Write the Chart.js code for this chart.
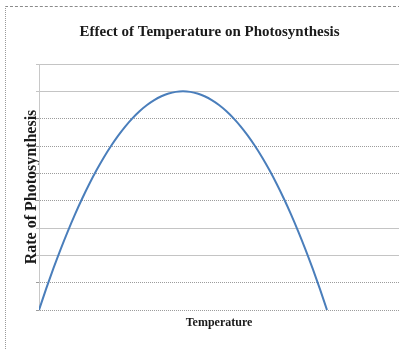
<!DOCTYPE html>
<html>
<head>
<meta charset="utf-8">
<script src="https://cdn.jsdelivr.net/npm/chart.js@4/dist/chart.umd.min.js"></script>
<style>
  html, body { margin: 0; padding: 0; background: #fff; }
  #wrap { position: relative; width: 399px; height: 349px; }
  #frame {
    position: absolute; left: 5px; top: 6px; right: -2px; bottom: -2px;
    border-top: 1px dashed #8a8a8a; border-left: 1px dotted #9a9a9a;
    pointer-events: none;
  }
</style>
</head>
<body>
<div id="wrap">
  <canvas id="grafico" width="399" height="349"></canvas>
  <div id="frame"></div>
</div>
<script>
// valores (una lectura por grado)
const temperaturas = [0, 1, 2, 3, 4, 5, 6, 7, 8, 9, 10, 11, 12, 13, 14, 15, 16, 17, 18, 19, 20,
  21, 22, 23, 24, 25, 26, 27, 28, 29, 30, 31, 32, 33, 34, 35, 36, 37, 38, 39, 40];
const tasaFotosintesis = [0, 0.78, 1.52, 2.22, 2.88, 3.5, 4.08, 4.62, 5.12, 5.58, 6, 6.38, 6.72, 7.02, 7.28, 7.5, 7.68, 7.82, 7.92, 7.98, 8,
  7.98, 7.92, 7.82, 7.68, 7.5, 7.28, 7.02, 6.72, 6.38, 6, 5.58, 5.12, 4.62, 4.08, 3.5, 2.88, 2.22, 1.52, 0.78, 0];
const tituloGrafico = 'Effect of Temperature on Photosynthesis';
const tituloEjeX = 'Temperature';
const tituloEjeY = 'Rate of Photosynthesis';

// lineas de la rejilla que salen punteadas (indice desde abajo)
const lineasPunteadas = [0, 1, 4, 5, 6, 7];

const ctx = document.getElementById('grafico').getContext('2d');

new Chart(ctx, {
  type: 'line',
  data: {
    datasets: [{
      data: temperaturas.map((t, i) => ({ x: t, y: tasaFotosintesis[i] })),
      borderColor: '#4a7ebb',
      borderWidth: 2,
      pointRadius: 0,
      fill: false,
      cubicInterpolationMode: 'monotone'
    }]
  },
  options: {
    responsive: false,
    animation: false,
    // el padding izquierdo corre el titulo hacia la derecha como en la figura
    layout: { padding: { left: 20, right: 0, top: 0, bottom: 0 } },
    plugins: {
      legend: { display: false },
      tooltip: { enabled: false },
      title: {
        display: true,
        text: tituloGrafico,
        color: '#1a1a1a',
        font: { family: 'Liberation Serif', size: 15, weight: 'bold', lineHeight: 1.2 },
        padding: { top: 23, bottom: 23 }
      }
    },
    scales: {
      x: {
        type: 'linear',
        min: 0,
        max: 50,
        grid: { display: false },
        border: { display: false },
        ticks: { display: false },
        title: {
          display: true,
          text: tituloEjeX,
          color: '#1a1a1a',
          font: { family: 'Liberation Serif', size: 12, weight: 'bold', lineHeight: 1.2 },
          padding: { top: 0, bottom: 19 }
        },
        afterFit: s => { s.height = 39; }
      },
      y: {
        min: 0,
        max: 9,
        ticks: { display: false, stepSize: 1 },
        grid: {
          color: c => lineasPunteadas.includes(c.index) ? '#9c9c9c' : '#c4c4c4',
          tickLength: 3,
          drawTicks: true
        },
        border: {
          display: true,
          color: '#c8c8c8',
          dash: c => lineasPunteadas.includes(c.index) ? [1, 1] : []
        },
        title: {
          display: true,
          text: tituloEjeY,
          color: '#1a1a1a',
          font: { family: 'Liberation Serif', size: 16, weight: 'bold', lineHeight: 1.2 },
          padding: { top: 2, bottom: 0 }
        },
        afterFit: s => { s.width = 19; }
      }
    }
  }
});
</script>
</body>
</html>
